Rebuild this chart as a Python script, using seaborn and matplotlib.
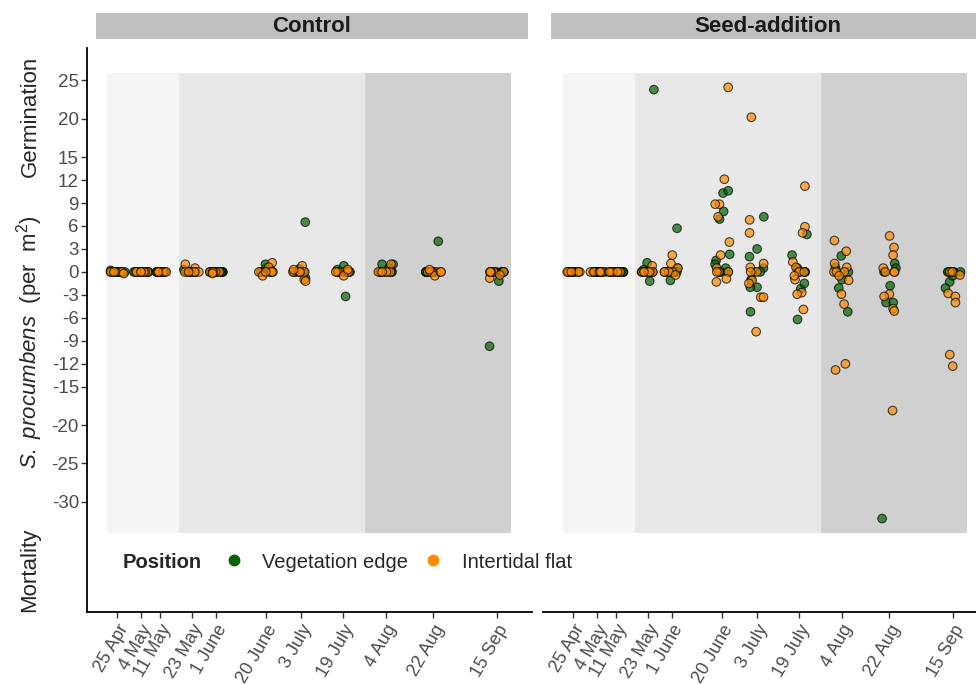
import numpy as np
import pandas as pd
import matplotlib
matplotlib.use("Agg")
import matplotlib.pyplot as plt
import seaborn as sns
from matplotlib.patches import Rectangle
from matplotlib.lines import Line2D

# ---------------- data ----------------
DATE_LABELS = ["25 Apr", "4 May", "11 May", "23 May", "1 June", "20 June",
               "3 July", "19 July", "4 Aug", "22 Aug", "15 Sep"]
DATE_DOY = [115, 124, 131, 143, 152, 171, 184, 200, 216, 234, 258]
Y_TICKS = [25, 20, 15, 12, 9, 6, 3, 0, -3, -6, -9, -12, -15, -20, -25, -30]
POSITIONS = ["Vegetation edge", "Intertidal flat"]
PANELS = ["Control", "Seed-addition"]

# Control, vegetation edge (one list per date)
control_veg = [
    [0, 0, 0, 0, 0, 0, 0, 0.2],
    [0, 0, 0, 0, 0, 0, 0, 0],
    [0, 0, 0, 0, 0, 0, 0, 0],
    [0, 0, 0, 0, 0, 0, 0, 0.3],
    [0, 0, 0, 0, 0, 0, 0, 0],
    [0, 0, 0, 0, 0, 0.5, 1.0, 0.3],
    [6.5, 0, 0, 0, 0, 0, -0.8, 0.4],
    [0.8, 0, 0, 0, 0, 0, -3.2, 0.3],
    [1.0, 1.0, 0, 0, 0, 0, 0, 0.5],
    [4.0, 0, 0, 0, 0, 0, 0, 0],
    [-9.7, 0, 0, 0, 0, 0, -1.2, 0],
]
# Control, intertidal flat
control_flat = [
    [0, 0, 0, 0, 0, 0, 0, -0.2],
    [0, 0, 0, 0, 0, 0, 0, 0],
    [0, 0, 0, 0, 0, 0, 0, 0],
    [1.0, 0.5, 0, 0, 0, 0, 0, 0],
    [0, 0, 0, 0, 0, 0, 0, -0.2],
    [1.2, 0.6, 0, 0, 0, 0, -0.5, 0],
    [0.8, -1.0, -1.2, 0, 0, 0, 0, 0.3],
    [0, 0, 0, 0, 0, 0, -0.5, 0.3],
    [1.0, 0, 0, 0, 0, 0, 0, 0],
    [0, 0, 0, 0, -0.5, 0, 0, 0.3],
    [-0.8, 0, 0, 0, 0, 0, -0.4, 0],
]
# Seed-addition, vegetation edge
seed_veg = [
    [0, 0, 0, 0, 0, 0, 0, 0],
    [0, 0, 0, 0, 0, 0, 0, 0],
    [0, 0, 0, 0, 0, 0, 0, 0],
    [23.8, 1.2, 0, 0, 0, 0, -1.2, 0.3],
    [5.7, -1.1, 0.5, 0, 0, 0, 0, 0],
    [10.3, 10.6, 7.9, 6.9, 2.3, 1.5, 1.0, 0.5, 0, 0, 0, 0],
    [7.2, 3.0, 2.0, 0.5, 0, 0, -2.0, -2.0, -5.2, -1.0],
    [4.9, 2.2, 0.5, 0, 0, 0, -2.2, -6.2, -1.5],
    [2.1, 0.6, 0, 0, -2.1, -5.2, -1.0],
    [1.1, 0.5, 0, -1.8, -4.0, -4.0, -32.2],
    [0, 0, 0, 0, 0, 0, 0, 0, -1.3, -2.1, -0.5],
]
# Seed-addition, intertidal flat
seed_flat = [
    [0, 0, 0, 0, 0, 0, 0, 0],
    [0, 0, 0, 0, 0, 0, 0, 0],
    [0, 0, 0, 0, 0, 0, 0, 0],
    [0.8, 0, 0, 0, 0, 0, 0, 0],
    [2.2, 1.1, 0.5, 0, 0, 0, 0, -0.4],
    [24.1, 12.1, 8.85, 8.85, 7.2, 3.9, 2.2, 0.5, 0, 0, 0, -0.9, -1.3],
    [20.2, 6.8, 5.1, 1.1, 0.6, 0, 0, -1.1, -3.3, -3.3, -7.8, -1.5],
    [11.2, 5.9, 5.1, 1.3, 0.6, 0, 0, 0, -1.0, -2.7, -2.9, -4.9, -0.5],
    [4.1, 2.7, 1.1, 0.6, 0, 0, 0, -0.5, -1.1, -2.9, -4.2, -12.0, -12.8],
    [4.7, 3.2, 2.2, 0.5, 0, 0, 0, -2.9, -3.2, -4.8, -5.1, -18.1],
    [0, 0, -0.4, -2.8, -3.2, -4.0, -10.8, -12.3],
]

# background period bands (day of year) and vertical extent
BAND_EDGES = [111.2, 138.3, 208.2, 263.3]
BAND_Y = (-34.1, 26.0)

# ---------------- style ----------------
GREEN = "#006400"
ORANGE = "#FF8C00"
BAND_COLORS = ["#f5f5f5", "#e8e8e8", "#d0d0d0"]
STRIP_COLOR = "#c0c0c0"
TICK_TXT = "#4d4d4d"

sns.set_theme(style="white")
plt.rcParams["font.family"] = ["Liberation Sans", "DejaVu Sans"]
plt.rcParams["mathtext.fontset"] = "custom"
plt.rcParams["mathtext.rm"] = "Liberation Sans"
plt.rcParams["mathtext.it"] = "Liberation Sans:italic"
plt.rcParams["mathtext.bf"] = "Liberation Sans:bold"


def long_frame(veg, flat):
    rows = []
    for pos, series in zip(POSITIONS, [veg, flat]):
        for doy, vals in zip(DATE_DOY, series):
            for v in vals:
                rows.append({"doy": doy, "value": v, "position": pos})
    return pd.DataFrame(rows)


W, H = 976, 684
fig = plt.figure(figsize=(W / 100, H / 100), dpi=100)


def fx(px):
    return px / W


def fy(py):
    return 1 - py / H


AX_TOP, AX_BOT = 48.3, 612
ax_l = fig.add_axes([fx(87.3), fy(AX_BOT), fx(532 - 87.3), (AX_BOT - AX_TOP) / H])
ax_r = fig.add_axes([fx(543.3), fy(AX_BOT), fx(988 - 543.3), (AX_BOT - AX_TOP) / H])

XLIM = (103.7, 271.1)
YLIM = (-44.4, 29.2)

np.random.seed(7)
for ax, veg, flat in [(ax_l, control_veg, control_flat), (ax_r, seed_veg, seed_flat)]:
    for x0, x1, c in zip(BAND_EDGES[:-1], BAND_EDGES[1:], BAND_COLORS):
        ax.add_patch(Rectangle((x0, BAND_Y[0]), x1 - x0, BAND_Y[1] - BAND_Y[0],
                               facecolor=c, edgecolor="none", lw=0, zorder=0))
    df = long_frame(veg, flat)
    sns.stripplot(data=df, x="doy", y="value", hue="position", hue_order=POSITIONS,
                  palette=[GREEN, ORANGE], native_scale=True, orient="x",
                  jitter=0.42, size=6.2, alpha=0.7, edgecolor="black",
                  linewidth=0.8, ax=ax, legend=False, zorder=3)
    ax.set_xlim(*XLIM)
    ax.set_ylim(*YLIM)
    ax.set_xlabel("")
    ax.set_ylabel("")
    ax.set_facecolor("white")
    ax.grid(False)
    ax.set_xticks(DATE_DOY)
    ax.set_xticklabels(DATE_LABELS, rotation=60, ha="right", va="top",
                       rotation_mode="anchor", color=TICK_TXT, fontsize=13)
    for s in ["top", "right"]:
        ax.spines[s].set_visible(False)
    ax.spines["bottom"].set_color("black")
    ax.spines["bottom"].set_linewidth(1.3)
    ax.tick_params(axis="x", bottom=True, direction="out", length=4, width=1.0,
                   color="#333333", pad=3)

ax_l.spines["left"].set_color("black")
ax_l.spines["left"].set_linewidth(1.3)
ax_l.set_yticks(Y_TICKS)
ax_l.set_yticklabels([str(t) for t in Y_TICKS], color=TICK_TXT, fontsize=13.5)
ax_l.tick_params(axis="y", left=True, direction="out", length=4, width=1.0,
                 color="#333333", pad=2)
ax_r.spines["left"].set_visible(False)
ax_r.tick_params(axis="y", left=False, labelleft=False)

# facet strips
for x0, x1, label in [(95.7, 528.0, PANELS[0]), (551.0, 984.0, PANELS[1])]:
    fig.add_artist(Rectangle((fx(x0), fy(39.0)), fx(x1 - x0), (39.0 - 12.7) / H,
                             transform=fig.transFigure, facecolor=STRIP_COLOR,
                             edgecolor="none", zorder=0))
    fig.text(fx((x0 + x1) / 2), fy(26.0), label, ha="center", va="center",
             fontsize=16, fontweight="bold", color="#1a1a1a")

# y-axis titles
fig.text(fx(30), fy(116), "Germination", rotation=90, ha="center", va="center",
         fontsize=16)
fig.text(fx(30), fy(342), r"$\it{S.\ procumbens}$  (per  m$^2$)", rotation=90,
         ha="center", va="center", fontsize=16)
fig.text(fx(30), fy(570), "Mortality", rotation=90, ha="center", va="center",
         fontsize=16)

# legend
fig.text(fx(123), fy(562), "Position", ha="left", va="center", fontsize=14.5,
         fontweight="bold")
handles = [Line2D([], [], marker="o", ls="", color=GREEN, markersize=7.5),
           Line2D([], [], marker="o", ls="", color=ORANGE, markersize=7.5)]
fig.legend(handles, POSITIONS, ncol=2, frameon=False, loc="center left",
           bbox_to_anchor=(fx(222), fy(562)), fontsize=14.5, handlelength=1.2,
           handletextpad=0.8, columnspacing=0.65, borderpad=0, borderaxespad=0)

fig.savefig("out.png", dpi=100)
